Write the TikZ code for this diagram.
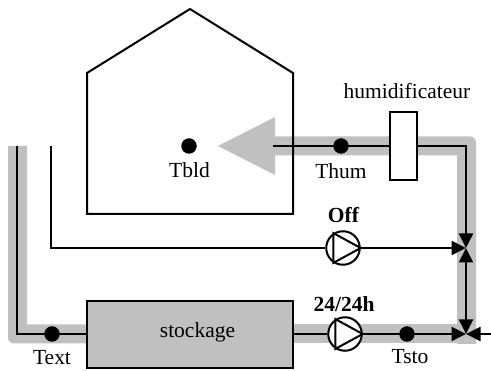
\documentclass[tikz,border=0pt]{standalone}
\usepackage{fontspec}
\setmainfont{Liberation Serif}
\usetikzlibrary{arrows.meta}
\begin{document}
\begin{tikzpicture}[x=1pt,y=-1pt,>={Triangle[length=14.5pt,width=14pt]},line width=2pt,font=\fontsize{21.5}{24}\selectfont]
      \tikzset{dot/.style={circle, fill=black, draw=none, minimum size=15.5pt, inner sep=0pt},
        pump/.style={circle, draw, fill=white, minimum size=33.5pt, inner sep=0pt},
        pipe/.style={draw=pipegray, line width=19pt},
        lbl/.style={inner sep=0pt, anchor=base}}
      \definecolor{pipegray}{RGB}{192,192,192}
      \useasboundingbox (0,0) rectangle (491,371);
      % gaines
      \coordinate (airin) at (17,146);
      \coordinate (airturn) at (17,334);
      \coordinate (nodeb) at (466,334);
      \coordinate (nodea) at (466,248);
      \coordinate (topturn) at (466,146);
      \coordinate (soufflage) at (273,146);
      \coordinate (reprise) at (51,146);
      \coordinate (repturn) at (51,248);
      \coordinate (ext) at (491,334);
      \fill[pipegray] (8,146) [rounded corners=6pt] -- (8,343.5) [sharp corners] -- (86,343.5) -- (86,324.5) -- (27,324.5) -- (27,146) -- cycle;
      \draw[pipe] (293,334) -- (476,334);
      \fill[pipegray] (270,136.5) [rounded corners=6pt] -- (476,136.5) [sharp corners] -- (476,344) -- (457,344) -- (457,155.5) -- (270,155.5) -- cycle;
      \fill[pipegray] (218,146) -- (275,117) -- (275,175) -- cycle;
      % batiment
      \draw (87,214) -- (87,73) -- (190,9) -- (293,73) -- (293,214) -- cycle;
      \node[draw, fill=pipegray, minimum width=206pt, minimum height=67pt, inner sep=0pt] (stockage) at (189.5,335) {};
      \node[draw, fill=white, minimum width=27pt, minimum height=68pt, inner sep=0pt] (humid) at (403,146) {};
      \node[pump] (pumpoff) at (343,248) {};
      \node[pump] (pumpon) at (345,334) {};
      \draw (pumpoff.123) -- (pumpoff.0) -- (pumpoff.237) -- cycle;
      \draw (pumpon.123) -- (pumpon.0) -- (pumpon.237) -- cycle;
      \node[dot] (tbld) at (189,146) {};
      \node[dot] (thum) at (341,146) {};
      \node[dot] (tsto) at (407,334) {};
      \node[dot] (text) at (52,334) {};
      % circuits
      \draw (soufflage) -- (humid.west);
      \draw[->] (humid.east) -- (topturn) -- (nodea);
      \draw[->] (pumpoff.east) -- (nodea);
      \draw (reprise) -- (repturn) -- (pumpoff.west);
      \draw[<->] (nodea) -- (nodeb);
      \draw[->] (pumpon.east) -- (nodeb);
      \draw[->] (ext) -- (nodeb);
      \draw (airin) -- (airturn) -- (stockage.west |- airturn);
      \draw (stockage.east |- nodeb) -- (pumpon.west);
      \node[lbl] (lstockage) at (197.5,337.5) {stockage};
      \node[lbl] (ltbld) at (189.5,178) {Tbld};
      \node[lbl] (lthum) at (341,178.5) {Thum};
      \node[lbl] (ltsto) at (410,364) {Tsto};
      \node[lbl] (ltext) at (52,364.5) {Text};
      \node[lbl] (lhumid) at (407,98.5) {humidificateur};
      \node[lbl] (loff) at (343.5,222.5) {\bfseries Off};
      \node[lbl] (lon) at (344,311.5) {\bfseries 24/24h};
    \end{tikzpicture}
\end{document}
